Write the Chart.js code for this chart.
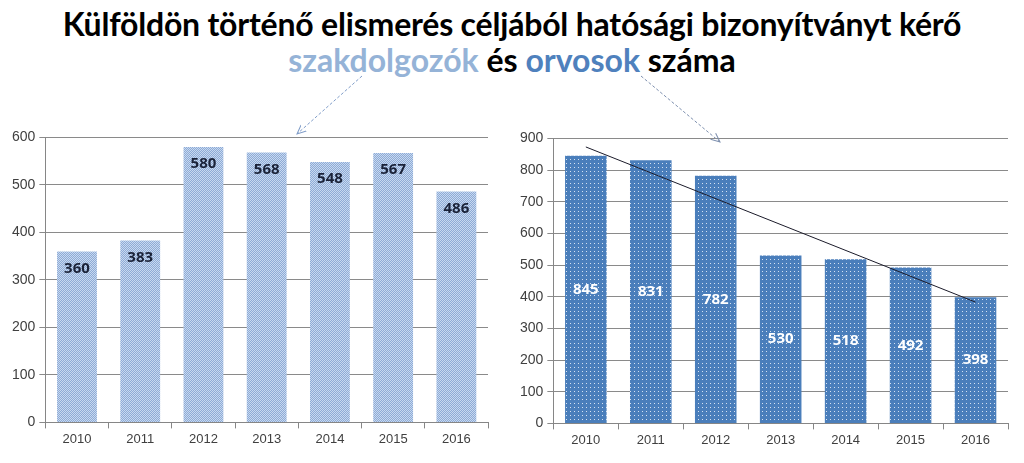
<!DOCTYPE html>
<html>
<head>
<meta charset="utf-8">
<script src="https://cdn.jsdelivr.net/npm/chart.js@4/dist/chart.umd.min.js"></script>
<style>
  body { margin:0; background:#fff; width:1024px; height:463px; overflow:hidden; position:relative; font-family:"Liberation Sans", Arial, sans-serif; }
  #title { position:absolute; left:0; top:6px; width:1024px; text-align:center; font-family:Lato, "Liberation Sans", sans-serif; font-weight:bold; color:#000; }
  #title .l1 { font-size:32px; line-height:36px; letter-spacing:-0.2px; }
  #title .l2 { font-size:32px; line-height:36px; }
  .sz { color:#95b3d7; }
  .or { color:#4f81bd; }
  #left { position:absolute; left:0; top:125px; }
  #right { position:absolute; left:505px; top:126px; }
  #arrows { position:absolute; left:0; top:0; }
</style>
</head>
<body>
<div id="title">
  <div class="l1">Külföldön történő elismerés céljából hatósági bizonyítványt kérő</div>
  <div class="l2"><span class="sz">szakdolgozók</span> és <span class="or">orvosok</span> száma</div>
</div>
<canvas id="left" width="495" height="338"></canvas>
<canvas id="right" width="519" height="337"></canvas>
<svg id="arrows" width="1024" height="463">
  <defs>
    <marker id="ah1" markerWidth="10" markerHeight="10" refX="9" refY="5" orient="auto" markerUnits="userSpaceOnUse">
      <path d="M0,1 L9,5 L0,9" fill="none" stroke="#7f9cc8" stroke-width="1"/>
    </marker>
    <marker id="ah2" markerWidth="10" markerHeight="10" refX="9" refY="5" orient="auto" markerUnits="userSpaceOnUse">
      <path d="M0,1 L9,5 L0,9" fill="none" stroke="#7d8fae" stroke-width="1"/>
    </marker>
  </defs>
  <line x1="362" y1="76" x2="297" y2="134" stroke="#7f9cc8" stroke-width="1" stroke-dasharray="3,2" marker-end="url(#ah1)"/>
  <line x1="641" y1="76" x2="720" y2="142" stroke="#7d8fae" stroke-width="1" stroke-dasharray="3,2" marker-end="url(#ah2)"/>
</svg>
<script>
var years = ["2010","2011","2012","2013","2014","2015","2016"];
var szakdolgozok = [360, 383, 580, 568, 548, 567, 486];
var orvosok = [845, 831, 782, 530, 518, 492, 398];
// trend line end points
var orvosTrend = [873, null, null, null, null, null, 383];

function hatchPattern() {
  var c = document.createElement("canvas");
  c.width = 4; c.height = 4;
  var x = c.getContext("2d");
  x.fillStyle = "#c8d9f0";
  x.fillRect(0, 0, 4, 4);
  x.fillStyle = "#8eabd6";
  for (var i = 0; i < 4; i++) {
    for (var j = 0; j < 4; j++) {
      if ((i + j) % 2 == 0) x.fillRect(i, j, 1, 1);
    }
  }
  return x.createPattern(c, "repeat");
}

function dotPattern() {
  var c = document.createElement("canvas");
  c.width = 4; c.height = 4;
  var x = c.getContext("2d");
  x.fillStyle = "#4a7ebb";
  x.fillRect(0, 0, 4, 4);
  x.fillStyle = "#d6e2f1";
  x.fillRect(1, 1, 1, 1);
  return x.createPattern(c, "repeat");
}

var barLabels = {
  id: "barLabels",
  afterDatasetsDraw: function(chart, args, opts) {
    var ctx = chart.ctx;
    var meta = chart.getDatasetMeta(0);
    var data = chart.data.datasets[0].data;
    ctx.save();
    ctx.font = "bold 15px 'Open Sans', 'Liberation Sans', sans-serif";
    ctx.fillStyle = opts.color;
    ctx.textAlign = "center";
    ctx.textBaseline = "middle";
    meta.data.forEach(function(bar, i) {
      var y = opts.mode == "center" ? (bar.y + bar.base) / 2 : bar.y + 17;
      ctx.fillText(String(data[i]), bar.x, y);
    });
    ctx.restore();
  }
};

function axisOpts(max, step) {
  return {
    x: {
      grid: { display: true, drawOnChartArea: false, offset: true, color: "#868686", tickLength: 6 },
      border: { color: "#868686" },
      ticks: { color: "#404040", font: { size: 13, family: "'Liberation Sans', sans-serif" }, padding: 3 }
    },
    y: {
      min: 0, max: max,
      grid: { color: "#8a8a8a", tickLength: 6 },
      border: { color: "#868686" },
      ticks: { stepSize: step, color: "#404040", font: { size: 14, family: "'Liberation Sans', sans-serif" }, padding: 4 }
    }
  };
}

Chart.defaults.animation = false;

new Chart(document.getElementById("left"), {
  type: "bar",
  data: {
    labels: years,
    datasets: [{
      data: szakdolgozok,
      backgroundColor: hatchPattern(),
      barPercentage: 0.63,
      categoryPercentage: 1
    }]
  },
  options: {
    responsive: false,
    layout: { padding: { left: 8, right: 7, top: 6, bottom: 13 } },
    plugins: { legend: { display: false }, tooltip: { enabled: false }, barLabels: { color: "#1a2238", mode: "top" } },
    scales: axisOpts(600, 100)
  },
  plugins: [barLabels]
});

new Chart(document.getElementById("right"), {
  type: "bar",
  data: {
    labels: years,
    datasets: [{
      type: "bar",
      data: orvosok,
      backgroundColor: dotPattern(),
      barPercentage: 0.64,
      categoryPercentage: 1,
      order: 2
    }, {
      type: "line",
      data: orvosTrend,
      spanGaps: true,
      borderColor: "#1b1b2a",
      borderWidth: 1,
      pointRadius: 0,
      fill: false,
      order: 1
    }]
  },
  options: {
    responsive: false,
    layout: { padding: { left: 11, right: 16, top: 7, bottom: 12 } },
    plugins: { legend: { display: false }, tooltip: { enabled: false }, barLabels: { color: "#ffffff", mode: "center" } },
    scales: axisOpts(900, 100)
  },
  plugins: [barLabels]
});
</script>
</body>
</html>
